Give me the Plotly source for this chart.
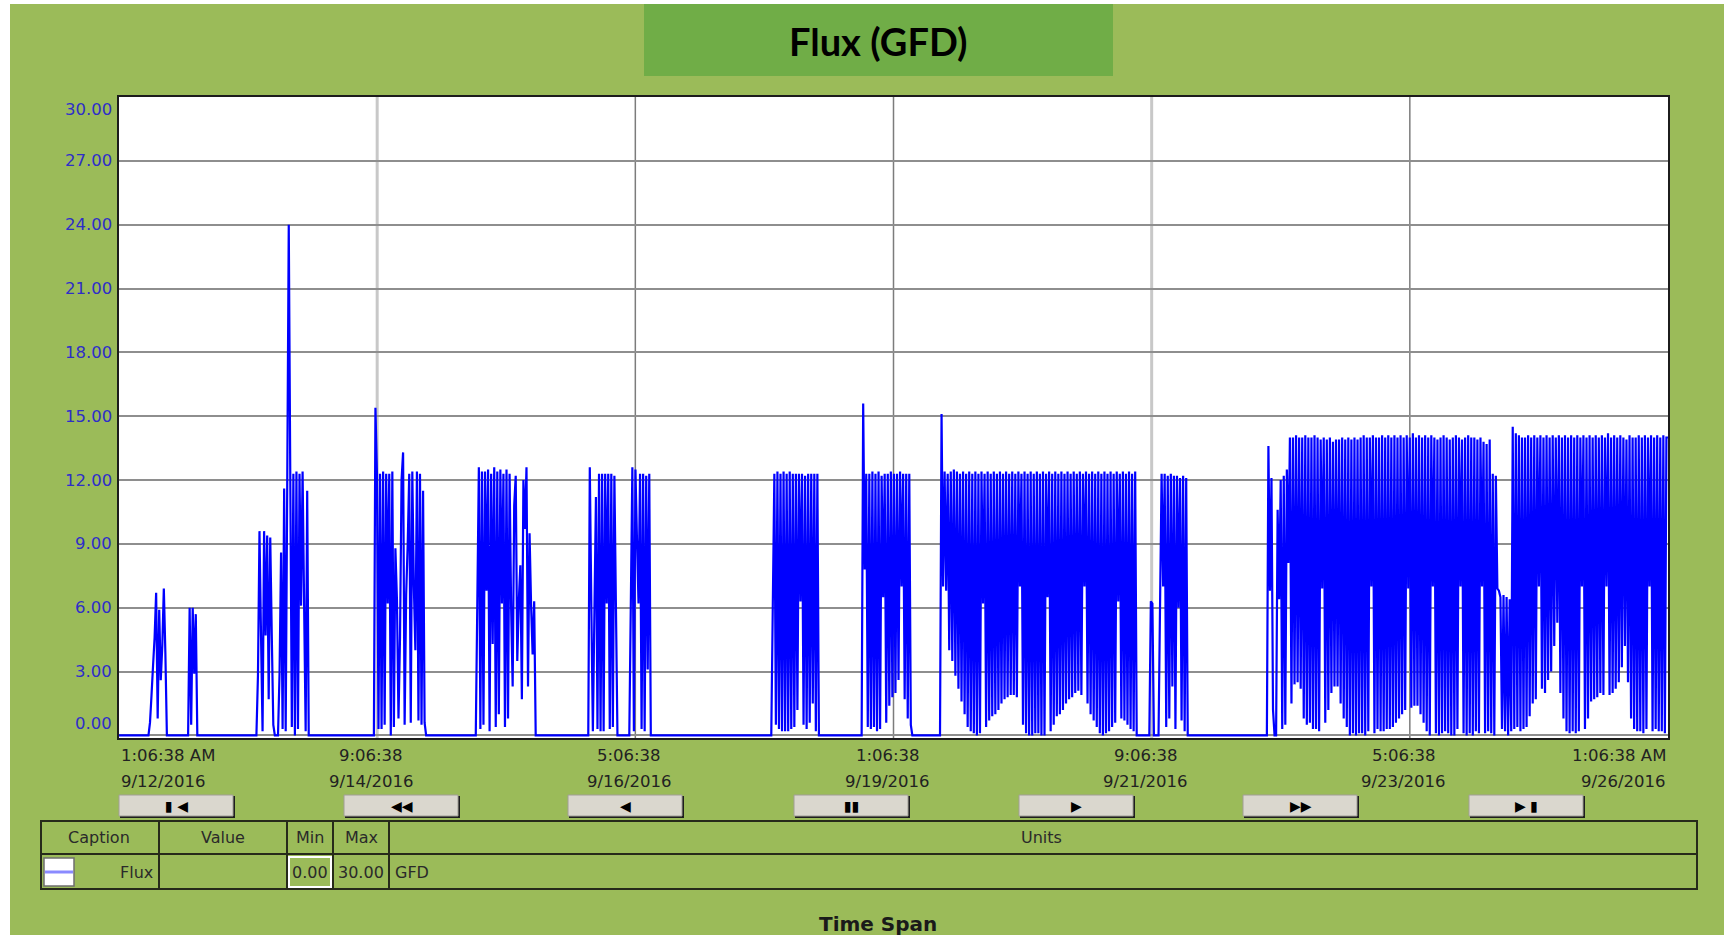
import pandas as pd
import plotly.graph_objects as go

# ------------------------------------------------------------------ data
SAMPLE_MINUTES = 20
range_start = "2016-09-12 01:06:38"
range_end = "2016-09-26 01:06:38"

burst_starts = [
    "2016-09-12 07:30", "2016-09-12 16:06", "2016-09-13 06:55", "2016-09-13 11:36",
    "2016-09-14 08:24", "2016-09-15 06:30", "2016-09-16 06:54", "2016-09-16 15:48",
    "2016-09-17 22:36", "2016-09-18 18:12", "2016-09-19 11:12", "2016-09-21 08:36",
    "2016-09-21 10:36", "2016-09-22 10:06",
]

flux_b01 = [0, 0.6, 1.9, 3.3, 4.6, 6.7, 0.8, 5.9, 2.6, 4.2, 6.9, 3.9, 0]
flux_b02 = [0, 6.0, 0.5, 6.0, 2.9, 5.7, 0]
flux_b03 = [0, 2.8, 9.6, 4.7, 0.2, 9.6, 4.7, 9.4, 1.7, 9.3, 4.7, 0.5, 0]
flux_b04 = [0, 2.9, 8.6, 0.3, 11.6, 0.2, 11.7, 24.0, 12.1, 0.4, 12.3, 0, 12.4, 0.3,
            12.3, 6.1, 12.4, 6.1, 0.2, 11.5, 0]
flux_b05 = [0, 15.4, 12.3, 0.3, 12.3, 0.3, 12.4, 0.5, 12.3, 6.2, 12.3, 0, 12.4, 0.4,
            8.8, 6.4, 0.8, 4.6, 12.0, 13.3, 0.5, 6.6, 9.0, 12.3, 0.6, 12.4, 7.0, 4.0,
            12.4, 0.7, 12.3, 0.5, 11.5, 0.6, 0]
flux_b06 = [0, 6.2, 12.6, 0.3, 12.4, 0.5, 12.4, 6.8, 12.5, 0.2, 12.3, 4.3, 12.6, 0.4,
            12.4, 1.0, 12.5, 6.2, 12.3, 0.4, 12.5, 0.8, 12.3, 6.0, 2.3, 10.8, 12.2, 3.5,
            6.3, 8.0, 1.7, 12.0, 9.7, 12.6, 2.3, 9.5, 6.1, 3.8, 6.3, 0]
flux_b07 = [0, 12.6, 6.1, 0.2, 5.8, 11.2, 0.3, 12.3, 0.2, 12.3, 0.2, 12.3, 6.2, 12.3,
            0.3, 12.3, 0.4, 12.2, 6.1, 0]
flux_b08 = [0, 6.2, 12.6, 0.2, 12.5, 9.2, 6.2, 12.3, 0.3, 12.3, 0.2, 12.2, 3.1, 12.3, 0]
flux_b09 = [0, 6.2, 12.3, 0.5, 12.4, 0.3, 12.3, 0.2, 12.4, 0.2, 12.3, 0.2, 12.4, 0.3,
            12.3, 0.4, 12.3, 1.2, 12.3, 6.3, 12.3, 0.5, 12.2, 0.3, 12.3, 0.6, 12.3, 1.5,
            12.3, 0.2, 12.3, 0]
flux_b10 = [0, 15.6, 7.8, 12.3, 0.4, 12.3, 0.3, 12.4, 0.4, 12.3, 0.2, 12.4, 0.3, 12.2,
            6.5, 12.3, 0.6, 12.3, 1.4, 12.4, 1.8, 12.3, 2.0, 12.3, 2.6, 12.4, 7.0, 12.3,
            1.7, 12.3, 0.8, 12.3, 0.5, 0]
flux_b11 = [0,
            15.1, 7.0, 12.4, 6.8, 12.3, 4.0, 12.4, 3.5,
            12.5, 2.8, 12.4, 2.2, 12.3, 1.6, 12.4, 1.0,
            12.3, 0.4, 12.4, 0.2, 12.3, 0.1, 12.4, 0.0,
            12.3, 0.1, 12.4, 6.2, 12.3, 0.4, 12.4, 0.7,
            12.3, 0.9, 12.4, 1.0, 12.3, 1.2, 12.4, 1.5,
            12.3, 1.7, 12.4, 1.8, 12.3, 1.9, 12.4, 1.9,
            12.3, 1.8, 12.4, 7.0, 12.3, 0.5, 12.4, 0.1,
            12.3, 0.0, 12.4, 0.0, 12.3, 0.1, 12.4, 0.1,
            12.3, 0.0, 12.4, 0.0, 12.3, 6.5, 12.4, 0.2,
            12.3, 0.5, 12.4, 0.9, 12.3, 1.0, 12.4, 1.2,
            12.3, 1.5, 12.4, 1.7, 12.3, 1.8, 12.4, 2.0,
            12.3, 2.1, 12.4, 1.9, 12.3, 7.0, 12.4, 1.5,
            12.3, 1.0, 12.4, 0.7, 12.3, 0.4, 12.4, 0.1,
            12.3, 0.0, 12.4, 0.1, 12.3, 0.2, 12.4, 0.4,
            12.3, 0.6, 12.4, 6.3, 12.3, 0.8, 12.4, 0.7,
            12.3, 0.5, 12.4, 0.3, 12.3, 0.2, 12.4, 0.0]
flux_b12a = [0, 6.3, 6.2, 0]
flux_b12b = [0, 6.2, 12.3, 7.0, 12.3, 0.4, 12.2, 0.8, 12.3, 2.3, 12.2, 0.3, 12.2, 6.0,
             12.1, 0.7, 12.2, 0.2, 12.1, 0]
flux_b13 = [
    0, 13.6, 6.8, 12.1, 1.2, 0, 0, 10.6, 6.4, 12.0, 0.3, 12.2,
    0.5, 12.5, 8.1, 14.0, 1.5, 14.0, 2.4, 14.1, 2.5, 14.0, 2.2, 14.0,
    0.8, 14.1, 0.5, 14.0, 0.6, 14.0, 0.3, 14.1, 0.3, 14.0, 0.2, 13.9,
    6.9, 14.0, 0.6, 13.9, 1.2, 14.0, 2.0, 13.8, 2.3, 13.9, 2.3, 13.9,
    1.5, 14.0, 0.8, 13.9, 0.4, 14.0, 0.0, 13.9, 0.1, 14.0, 0.0, 13.9,
    0.1, 14.0, 0.1, 14.1, 0.0, 14.0, 0.2, 14.0, 7.0, 14.1, 0.1, 14.0,
    0.3, 14.0, 0.2, 14.1, 0.2, 14.0, 0.3, 14.1, 0.3, 14.0, 0.4, 14.1,
    0.6, 14.0, 0.8, 14.1, 1.0, 14.0, 1.2, 14.1, 6.9, 14.0, 1.3, 14.2,
    1.4, 14.0, 1.4, 14.1, 1.0, 14.0, 0.6, 14.1, 0.2, 14.0, 0.0, 14.1,
    7.0, 14.0, 0.1, 13.9, 0.0, 14.0, 0.1, 14.1, 0.2, 14.0, 0.1, 13.9,
    0.0, 14.0, 0.0, 14.1, 0.3, 14.0, 7.0, 13.9, 0.1, 14.0, 0.0, 14.1,
    0.1, 14.0, 0.0, 14.0, 0.2, 13.9, 0.1, 14.0, 7.0, 13.8, 0.1, 13.7,
    0.2, 13.9, 0.1, 12.3, 0.0, 12.2, 6.9, 6.8, 6.5, 0.3, 6.6, 0.2,
    6.5, 0.0, 6.4, 0.2, 14.5, 0.3, 14.2, 0.4, 14.1, 0.2, 14.0, 0.3,
    14.0, 0.4, 14.1, 0.9, 14.0, 1.5, 14.1, 1.7, 14.0, 7.0, 14.1, 2.2,
    14.0, 2.0, 14.1, 2.6, 14.0, 3.0, 14.1, 4.2, 14.0, 5.3, 14.1, 2.0,
    14.0, 0.8, 14.1, 0.2, 14.0, 0.1, 14.1, 0.2, 14.0, 0.1, 14.1, 0.2,
    14.0, 7.0, 14.1, 0.3, 14.0, 0.8, 14.1, 1.6, 14.0, 1.7, 14.1, 1.8,
    14.0, 2.0, 14.1, 1.9, 14.0, 7.0, 14.2, 1.9, 14.0, 2.0, 14.1, 2.2,
    14.0, 2.5, 14.1, 3.2, 14.0, 4.2, 13.9, 2.5, 14.1, 0.8, 14.0, 0.3,
    14.0, 0.2, 14.1, 0.2, 14.0, 0.1, 14.1, 0.3, 14.0, 7.0, 14.1, 0.2,
    14.0, 0.3, 14.1, 0.2, 14.0, 0.2, 14.1, 0.1, 14.0, 14.0,
]
bursts = [flux_b01, flux_b02, flux_b03, flux_b04, flux_b05, flux_b06, flux_b07,
          flux_b08, flux_b09, flux_b10, flux_b11, flux_b12a, flux_b12b, flux_b13]

tick_times = ["2016-09-12 01:06:38", "2016-09-14 09:06:38", "2016-09-16 17:06:38",
              "2016-09-19 01:06:38", "2016-09-21 09:06:38", "2016-09-23 17:06:38",
              "2016-09-26 01:06:38"]
tick_time_labels = ["1:06:38 AM", "9:06:38", "5:06:38", "1:06:38", "9:06:38",
                    "5:06:38", "1:06:38 AM"]
tick_date_labels = ["9/12/2016", "9/14/2016", "9/16/2016", "9/19/2016", "9/21/2016",
                    "9/23/2016", "9/26/2016"]
y_tick_values = [0, 3, 6, 9, 12, 15, 18, 21, 24, 27, 30]
y_tick_labels = ["0.00", "3.00", "6.00", "9.00", "12.00", "15.00", "18.00", "21.00",
                 "24.00", "27.00", "30.00"]

table_headers = ["Caption", "Value", "Min", "Max", "Units"]
series_caption = "Flux"
series_min = "0.00"
series_max = "30.00"
series_units = "GFD"
button_symbols = ["▮ ◀", "◀◀", "◀", "▮▮", "▶", "▶▶", "▶ ▮"]
chart_title = "Flux (GFD)"
footer_text = "Time Span"

# ------------------------------------------------------------ build series
xs = [pd.Timestamp(range_start)]
ys = [0]
for start, vals in zip(burst_starts, bursts):
    times = pd.date_range(start, periods=len(vals), freq=f"{SAMPLE_MINUTES}min")
    xs.extend(times)
    ys.extend(vals)

# ------------------------------------------------------------ layout geometry
FIG_W, FIG_H = 1724, 935
L, R, T, B = 119, 1668, 97, 738
PW, PH = R - L, B - T


def fx(p):
    return (p - L) / PW


def fy(p):
    return (B - p) / PH


GREEN = "#9BBB59"
TITLE_GREEN = "#70AD47"
FONT = "DejaVu Sans"

fig = go.Figure()
fig.add_trace(go.Scatter(x=xs, y=ys, mode="lines",
                         line=dict(color="#0000FF", width=2.2, simplify=False),
                         hoverinfo="skip", showlegend=False))

shapes = []
annotations = []

# white strips at top/left edge of the screenshot
shapes.append(dict(type="rect", xref="paper", yref="paper", x0=fx(0), x1=fx(10),
                   y0=fy(FIG_H), y1=fy(0), fillcolor="white", line_width=0, layer="below"))
shapes.append(dict(type="rect", xref="paper", yref="paper", x0=fx(0), x1=fx(FIG_W),
                   y0=fy(4), y1=fy(0), fillcolor="white", line_width=0, layer="below"))
# title box
shapes.append(dict(type="rect", xref="paper", yref="paper", x0=fx(644), x1=fx(1113),
                   y0=fy(76), y1=fy(4), fillcolor=TITLE_GREEN, line_width=0, layer="below"))
annotations.append(dict(xref="paper", yref="paper", x=fx(878.5), y=fy(41),
                        text=f"<b>{chart_title}</b>", showarrow=False,
                        font=dict(family="Lato", size=38, color="black"),
                        xanchor="center", yanchor="middle"))

# vertical grid lines at the interior time ticks
vline_styles = {1: ("#c8c8c8", 3), 2: ("#7c7c7c", 1.5), 3: ("#7c7c7c", 1.5),
                4: ("#c8c8c8", 3), 5: ("#7c7c7c", 1.5)}
for i, t in enumerate(tick_times):
    if i in vline_styles:
        col, w = vline_styles[i]
        shapes.append(dict(type="line", xref="x", yref="paper", x0=t, x1=t, y0=0, y1=1,
                           line=dict(color=col, width=w), layer="below"))

# x tick labels (two lines)
for i, (t, tl, dl) in enumerate(zip(tick_times, tick_time_labels, tick_date_labels)):
    if i == 0:
        anchor, shift = "left", 0
    elif i == len(tick_times) - 1:
        anchor, shift = "right", 0
    else:
        anchor, shift = "center", -6
    for txt, ypix in ((tl, 755), (dl, 781)):
        annotations.append(dict(xref="x", yref="paper", x=t, y=fy(ypix), text=txt,
                                showarrow=False, xanchor=anchor, yanchor="middle",
                                xshift=shift,
                                font=dict(family=FONT, size=16.5, color="#222222")))

# y tick labels
for v, lab in zip(y_tick_values, y_tick_labels):
    shift = 12 if v == y_tick_values[0] else (-12 if v == y_tick_values[-1] else 0)
    annotations.append(dict(xref="paper", yref="y", x=fx(114), y=v, text=lab,
                            showarrow=False, xanchor="right", yanchor="middle",
                            yshift=shift,
                            font=dict(family=FONT, size=16.5, color="#2E2EC8")))

# navigation buttons
btn_x0 = [119, 344, 568, 794, 1019, 1243, 1469]
BTN_W, BTN_Y0, BTN_Y1 = 115, 795, 817
for x0, sym in zip(btn_x0, button_symbols):
    shapes.append(dict(type="rect", xref="paper", yref="paper",
                       x0=fx(x0 + 1), x1=fx(x0 + BTN_W + 1), y0=fy(BTN_Y1 + 1), y1=fy(BTN_Y0 + 1),
                       fillcolor="#1e1e1e", line_width=0))
    shapes.append(dict(type="rect", xref="paper", yref="paper",
                       x0=fx(x0), x1=fx(x0 + BTN_W - 1), y0=fy(BTN_Y1 - 1), y1=fy(BTN_Y0),
                       fillcolor="#DAD7CE", line=dict(color="#a09e96", width=1)))
    annotations.append(dict(xref="paper", yref="paper", x=fx(x0 + BTN_W / 2), y=fy(806),
                            text=sym, showarrow=False, xanchor="center", yanchor="middle",
                            font=dict(family=FONT, size=14, color="black")))

# legend table
TBL_X0, TBL_X1, TBL_Y0, TBL_YM, TBL_Y1 = 41, 1697, 821, 854, 889
LINE_COL = "#262a1a"
shapes.append(dict(type="rect", xref="paper", yref="paper", x0=fx(TBL_X0), x1=fx(TBL_X1),
                   y0=fy(TBL_Y1), y1=fy(TBL_Y0), line=dict(color=LINE_COL, width=2)))
shapes.append(dict(type="line", xref="paper", yref="paper", x0=fx(TBL_X0), x1=fx(TBL_X1),
                   y0=fy(TBL_YM), y1=fy(TBL_YM), line=dict(color=LINE_COL, width=2)))
for cx in (159, 287, 333, 389):
    shapes.append(dict(type="line", xref="paper", yref="paper", x0=fx(cx), x1=fx(cx),
                       y0=fy(TBL_Y1), y1=fy(TBL_Y0), line=dict(color=LINE_COL, width=2)))
header_x = [99, 223, 310, 361, 1041]
for hx, h in zip(header_x, table_headers):
    annotations.append(dict(xref="paper", yref="paper", x=fx(hx), y=fy(837), text=h,
                            showarrow=False, xanchor="center", yanchor="middle",
                            font=dict(family=FONT, size=16, color="#2a2a2a")))
# legend swatch
shapes.append(dict(type="rect", xref="paper", yref="paper", x0=fx(44), x1=fx(74),
                   y0=fy(886), y1=fy(858), fillcolor="white", line=dict(color="#6f6f6f", width=1.5)))
shapes.append(dict(type="line", xref="paper", yref="paper", x0=fx(45), x1=fx(73),
                   y0=fy(872), y1=fy(872), line=dict(color="#8a8aff", width=3)))
# min box
shapes.append(dict(type="rect", xref="paper", yref="paper", x0=fx(289), x1=fx(331),
                   y0=fy(887), y1=fy(857), line=dict(color="white", width=2)))
row_items = [(series_caption, 155, "right"), (series_min, 310, "center"),
             (series_max, 361, "center"), (series_units, 393, "left")]
for txt, px_, anc in row_items:
    annotations.append(dict(xref="paper", yref="paper", x=fx(px_), y=fy(872), text=txt,
                            showarrow=False, xanchor=anc, yanchor="middle",
                            font=dict(family=FONT, size=16, color="#2a2a2a")))

annotations.append(dict(xref="paper", yref="paper", x=fx(878), y=fy(924),
                        text=f"<b>{footer_text}</b>", showarrow=False,
                        xanchor="center", yanchor="middle",
                        font=dict(family=FONT, size=20, color="#1a1a1a")))

fig.update_layout(
    width=FIG_W, height=FIG_H, autosize=False,
    margin=dict(l=L, r=FIG_W - R, t=T, b=FIG_H - B, pad=0),
    paper_bgcolor=GREEN, plot_bgcolor="white",
    font=dict(family=FONT),
    showlegend=False,
    shapes=shapes, annotations=annotations,
    xaxis=dict(type="date", range=[range_start, range_end], showgrid=False,
               showticklabels=False, ticks="", zeroline=False,
               showline=True, mirror=True, linecolor="#1c1c1c", linewidth=2),
    yaxis=dict(range=[-0.12, 30], tickvals=y_tick_values, showticklabels=False,
               ticks="", showgrid=True, gridcolor="#8e8e8e", gridwidth=1.6,
               zeroline=False, showline=True, mirror=True, linecolor="#1c1c1c",
               linewidth=2),
)

fig.write_html("out.html", config={"displayModeBar": False},
               post_script="document.body.style.margin='0';")
